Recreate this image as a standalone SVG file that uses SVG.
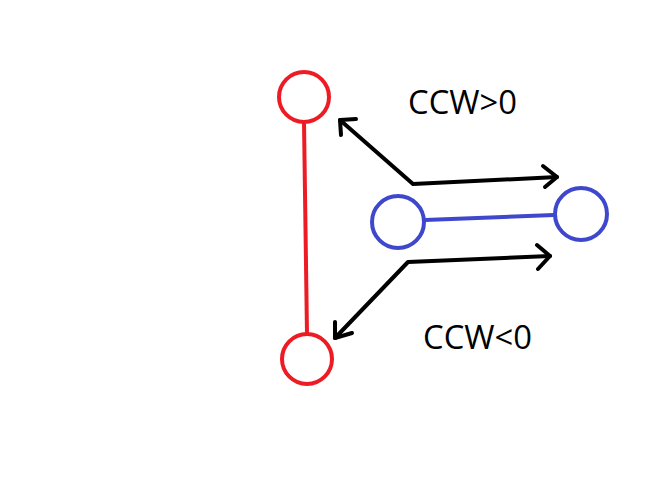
<svg xmlns="http://www.w3.org/2000/svg" width="663" height="487" viewBox="0 0 663 487">
<style>
.red{fill:none;stroke:#ed1c24;stroke-width:4}
.blue{fill:none;stroke:#3f48cc;stroke-width:4}
.arr{fill:none;stroke:#000;stroke-width:4;stroke-linecap:round;stroke-linejoin:round}
.lbl{font-family:"Open Sans","Noto Sans",sans-serif;font-size:32px;fill:#000}
</style>
<rect width="663" height="487" fill="#fff"/>
<g id="red-link">
<line class="red" x1="304" y1="122" x2="307" y2="334"/>
</g>
<g id="red-top"><circle class="red" cx="304" cy="97" r="25"/></g>
<g id="red-bottom"><circle class="red" cx="307" cy="359" r="25"/></g>
<g id="blue-link">
<line class="blue" x1="425" y1="220" x2="554" y2="215"/>
</g>
<g id="blue-left"><circle class="blue" cx="398" cy="222" r="26"/></g>
<g id="blue-right"><circle class="blue" cx="581" cy="214" r="26"/></g>
<g id="connectors">
<polyline class="arr" points="340,120 413,184 557,177"/>
<polyline class="arr" points="356,119 340,120 341,135"/>
<polyline class="arr" points="543,166 557,177 545,187"/>
<polyline class="arr" points="335,338 408,262 550,256"/>
<polyline class="arr" points="335,322 335,338 352,333"/>
<polyline class="arr" points="537,245 550,256 538,269"/>
</g>
<g id="label-pos"><text class="lbl" x="408" y="114" textLength="109" lengthAdjust="spacingAndGlyphs">CCW&gt;0</text></g>
<g id="label-neg"><text class="lbl" x="423" y="349" textLength="109" lengthAdjust="spacingAndGlyphs">CCW&lt;0</text></g>
</svg>
